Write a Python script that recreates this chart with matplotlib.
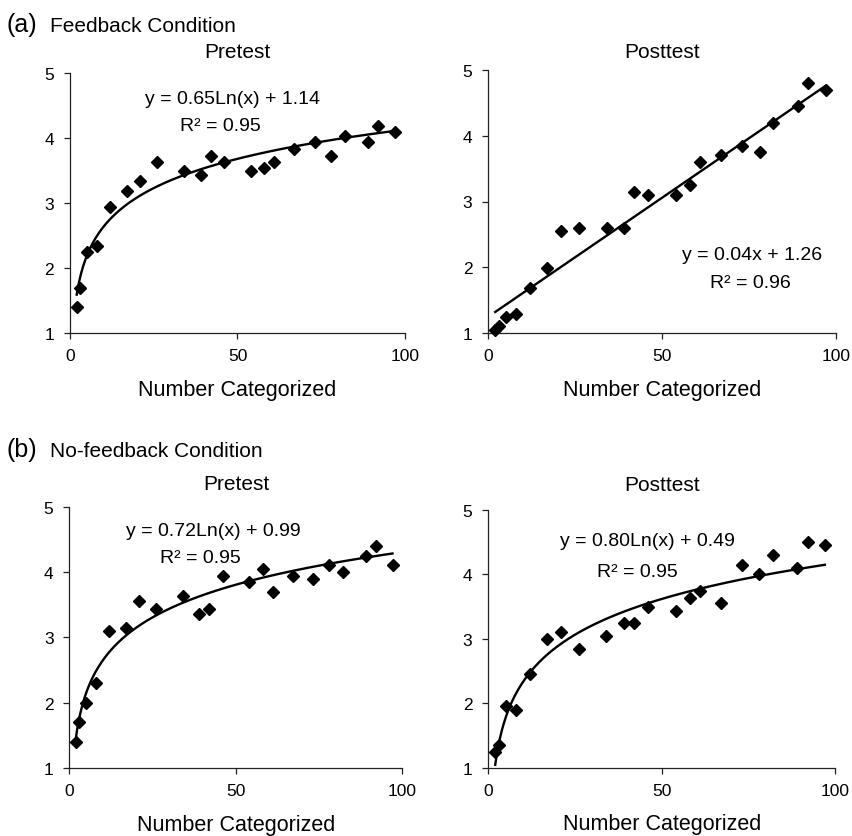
import numpy as np
import matplotlib
matplotlib.use('Agg')
import matplotlib.pyplot as plt

plt.rcParams['font.family'] = ['Liberation Sans', 'DejaVu Sans']

# number categorized (same blocks for every panel)
x = [2, 3, 5, 8, 12, 17, 21, 26, 34, 39, 42, 46, 54, 58, 61, 67, 73, 78, 82, 89, 92, 97]

fb_pre = [1.40, 1.69, 2.25, 2.34, 2.94, 3.19, 3.34, 3.64, 3.49, 3.43, 3.73,
          3.64, 3.49, 3.54, 3.64, 3.83, 3.94, 3.73, 4.04, 3.94, 4.19, 4.09]
fb_post = [1.04, 1.10, 1.25, 1.29, 1.69, 1.99, 2.55, 2.60, 2.60, 2.60, 3.15,
           3.10, 3.10, 3.25, 3.60, 3.70, 3.85, 3.75, 4.19, 4.45, 4.80, 4.70]
nf_pre = [1.40, 1.70, 2.00, 2.30, 3.09, 3.14, 3.55, 3.44, 3.64, 3.35, 3.44,
          3.94, 3.84, 4.05, 3.69, 3.94, 3.89, 4.10, 4.00, 4.25, 4.40, 4.10]
nf_post = [1.25, 1.36, 1.95, 1.90, 2.45, 3.00, 3.10, 2.84, 3.05, 3.25, 3.25,
           3.49, 3.44, 3.64, 3.75, 3.55, 4.15, 4.00, 4.30, 4.10, 4.50, 4.45]

# trendlines: (kind, a, b)  log -> a*ln(x)+b, lin -> a*x+b
fits = [('log', 0.65, 1.14), ('lin', 0.0362, 1.248),
        ('log', 0.72, 0.99), ('log', 0.80, 0.49)]
eq_labels = ['y = 0.65Ln(x) + 1.14', 'y = 0.04x + 1.26',
             'y = 0.72Ln(x) + 0.99', 'y = 0.80Ln(x) + 0.49']
r2_labels = ['R² = 0.95', 'R² = 0.96', 'R² = 0.95', 'R² = 0.95']
titles = ['Pretest', 'Posttest', 'Pretest', 'Posttest']

W, H = 853, 837
fig = plt.figure(figsize=(W / 100, H / 100), dpi=100)

# axes boxes in pixels: left, right, top, bottom
boxes = [(70, 405, 74.3, 334), (488.3, 836, 71, 334),
         (69.5, 402.5, 507.7, 769), (488.3, 835.3, 511, 768.7)]
title_pad = [11.7, 9.6, 12.7, 14.6]
eq_pos = [(48.6, 4.55), (75.9, 2.13), (43.3, 4.56), (45.9, 4.45)]
r2_pos = [(44.9, 4.12), (75.3, 1.70), (39.4, 4.16), (43.1, 3.97)]

series = [fb_pre, fb_post, nf_pre, nf_post]

for i in range(4):
    l, r, t, b = boxes[i]
    ax = fig.add_axes([l / W, 1 - b / H, (r - l) / W, (b - t) / H])
    xs = np.linspace(min(x), max(x), 300)
    kind, a, c = fits[i]
    if kind == 'log':
        ys = a * np.log(xs) + c
    else:
        ys = a * xs + c
    ax.plot(xs, ys, color='black', lw=1.7, zorder=2)
    ax.plot(x, series[i], 'D', color='black', ms=6.3, zorder=3, clip_on=False)

    ax.set_xlim(0, 100)
    ax.set_ylim(1, 5)
    ax.set_xticks([0, 50, 100])
    ax.set_yticks([1, 2, 3, 4, 5])
    for s in ['top', 'right']:
        ax.spines[s].set_visible(False)
    for s in ['left', 'bottom']:
        ax.spines[s].set_linewidth(0.9)
        ax.spines[s].set_color('#222222')
    ax.tick_params(direction='out', length=4.5, width=0.9, color='#222222',
                   labelsize=12.5)
    ax.tick_params(axis='x', pad=6.5)
    ax.tick_params(axis='y', pad=7)
    ax.set_title(titles[i], fontsize=15, pad=title_pad[i])
    ax.set_xlabel('Number Categorized', fontsize=15.5, labelpad=11)
    ax.text(eq_pos[i][0], eq_pos[i][1], eq_labels[i], fontsize=14,
            ha='center', va='baseline')
    ax.text(r2_pos[i][0], r2_pos[i][1], r2_labels[i], fontsize=14,
            ha='center', va='baseline')

fig.text(7 / W, 1 - 32 / H, '(a)', fontsize=18, va='baseline')
fig.text(50 / W, 1 - 31.7 / H, 'Feedback Condition', fontsize=15, va='baseline')
fig.text(7 / W, 1 - 457 / H, '(b)', fontsize=18, va='baseline')
fig.text(50 / W, 1 - 457 / H, 'No-feedback Condition', fontsize=15, va='baseline')

fig.savefig('out.png', dpi=100)
